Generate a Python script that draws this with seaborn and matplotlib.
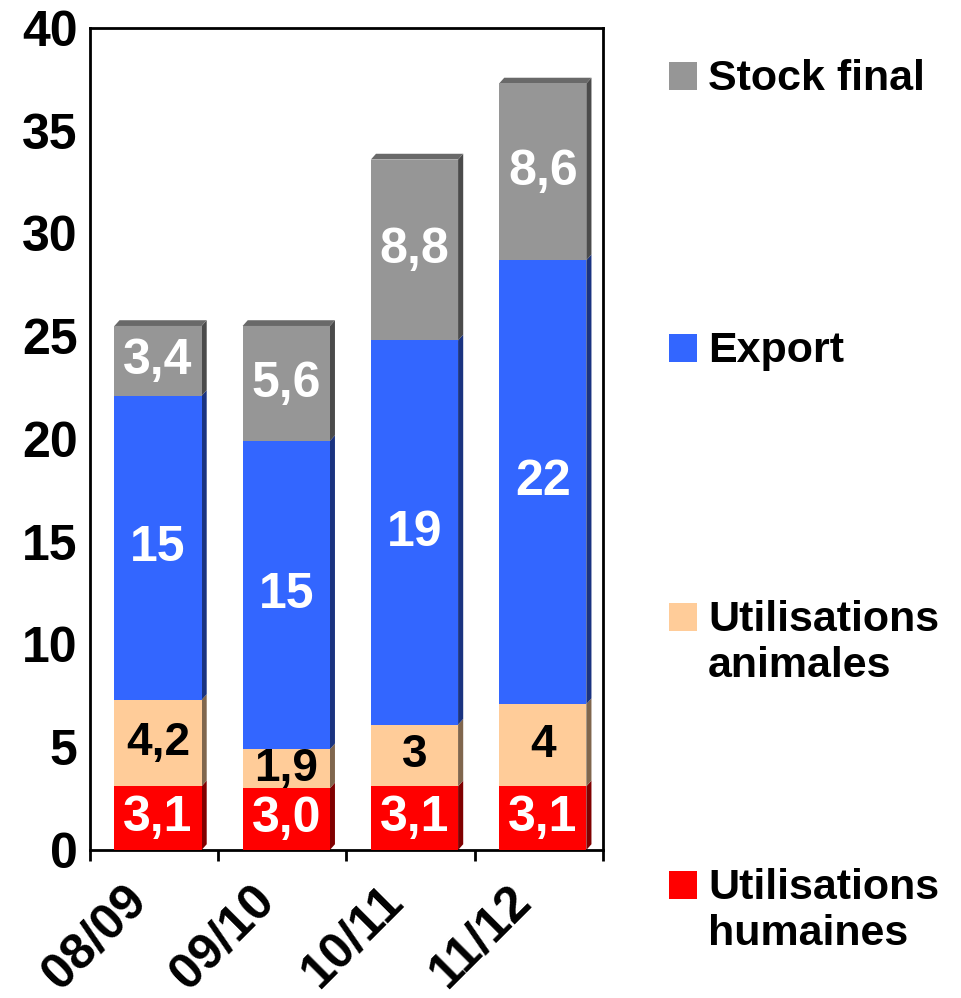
import numpy as np
import matplotlib.pyplot as plt
import matplotlib.transforms as mtransforms
from matplotlib.patches import Polygon, Rectangle
import seaborn as sns

# Données
campagnes = ["08/09", "09/10", "10/11", "11/12"]
humaines = [3.1, 3.0, 3.1, 3.1]
animales = [4.2, 1.9, 3.0, 4.0]
export = [14.8, 15.0, 18.7, 21.6]
stock = [3.4, 5.6, 8.8, 8.6]

lab_humaines = ["3,1", "3,0", "3,1", "3,1"]
lab_animales = ["4,2", "1,9", "3", "4"]
lab_export = ["15", "15", "19", "22"]
lab_stock = ["3,4", "5,6", "8,8", "8,6"]

series = [
    ("Utilisations\nhumaines", humaines, lab_humaines, "#FF0000", "white", 36),
    ("Utilisations\nanimales", animales, lab_animales, "#FFCC99", "black", 33),
    ("Export", export, lab_export, "#3366FF", "white", 36),
    ("Stock final", stock, lab_stock, "#969696", "white", 36),
]

sns.set_theme(style="white")
plt.rcParams["font.family"] = ["Liberation Sans", "DejaVu Sans"]
plt.rcParams["font.weight"] = "bold"
plt.rcParams["text.color"] = "black"
plt.rcParams["xtick.color"] = "black"
plt.rcParams["ytick.color"] = "black"

W, H = 962, 998
fig = plt.figure(figsize=(W / 100, H / 100), dpi=100)
ax = fig.add_axes([90 / W, (H - 850) / H, 513 / W, 822 / H])

def shade(c, f):
    r, g, b = [int(c[i:i + 2], 16) / 255 for i in (1, 3, 5)]
    return (r * f, g * f, b * f)

# effet 3D : face latérale et dessus plus sombres
dx, dy = 0.04, 0.28
bottom = np.zeros(len(campagnes))
for k, (name, vals, labs, col, tcol, fs) in enumerate(series):
    n0 = len(ax.patches)
    sns.barplot(x=campagnes, y=vals, bottom=bottom, color=col, width=0.68,
                saturation=1, ax=ax, zorder=3, linewidth=0)
    bars = ax.patches[n0:]
    for bar, lab in zip(bars, labs):
        bar.set_x(bar.get_x() + 0.03)
        x, y = bar.get_x(), bar.get_y()
        w, h = bar.get_width(), bar.get_height()
        side = Polygon([(x + w, y), (x + w + dx, y + dy), (x + w + dx, y + h + dy), (x + w, y + h)],
                       closed=True, facecolor=shade(col, 0.5), edgecolor="none", zorder=2)
        ax.add_patch(side)
        if k == len(series) - 1:
            top = Polygon([(x, y + h), (x + dx, y + h + dy), (x + w + dx, y + h + dy), (x + w, y + h)],
                          closed=True, facecolor=shade(col, 0.7), edgecolor="none", zorder=2)
            ax.add_patch(top)
        ax.text(x + w / 2, y + h / 2, lab, ha="center", va="center", color=tcol,
                fontsize=fs, fontweight="bold", zorder=4)
    bottom = bottom + np.array(vals)

ax.set_xlim(-0.5, 3.5)
ax.set_ylim(0, 40)
ax.set_yticks(np.arange(0, 41, 5))
ax.set_xlabel("")
ax.set_ylabel("")
ax.tick_params(axis="y", length=0, pad=9, labelsize=36, labelcolor="black")
ax.set_xticks(range(len(campagnes)))
ax.set_xticks(np.arange(-0.5, 4, 1), minor=True)
ax.tick_params(axis="x", which="major", length=0, pad=18, labelsize=36, labelcolor="black")
ax.tick_params(axis="x", which="minor", length=8, width=2, direction="out", bottom=True)
shift = mtransforms.ScaledTranslation(-15 / 100, -18 / 100, fig.dpi_scale_trans)
for t in ax.get_xticklabels():
    t.set_rotation(45)
    t.set_ha("right")
    t.set_va("center")
    t.set_rotation_mode("anchor")
    t.set_fontweight("bold")
    t.set_transform(t.get_transform() + shift)
for t in ax.get_yticklabels():
    t.set_fontweight("bold")
for s in ax.spines.values():
    s.set_color("black")
    s.set_linewidth(2)

# Légende
entries = [
    ("#969696", ["Stock final"], 90),
    ("#3366FF", ["Export"], 362),
    ("#FFCC99", ["Utilisations", "animales"], 631),
    ("#FF0000", ["Utilisations", "humaines"], 899),
]
for col, lines, base in entries:
    fig.add_artist(Rectangle((669 / W, (H - base) / H), 28 / W, 28 / H,
                             transform=fig.transFigure, facecolor=col, edgecolor="none"))
    for i, line in enumerate(lines):
        fig.text(708 / W, (H - base - 46 * i) / H, line, fontsize=31, fontweight="bold",
                 color="black", ha="left", va="baseline")

fig.savefig("out.png", dpi=100)
